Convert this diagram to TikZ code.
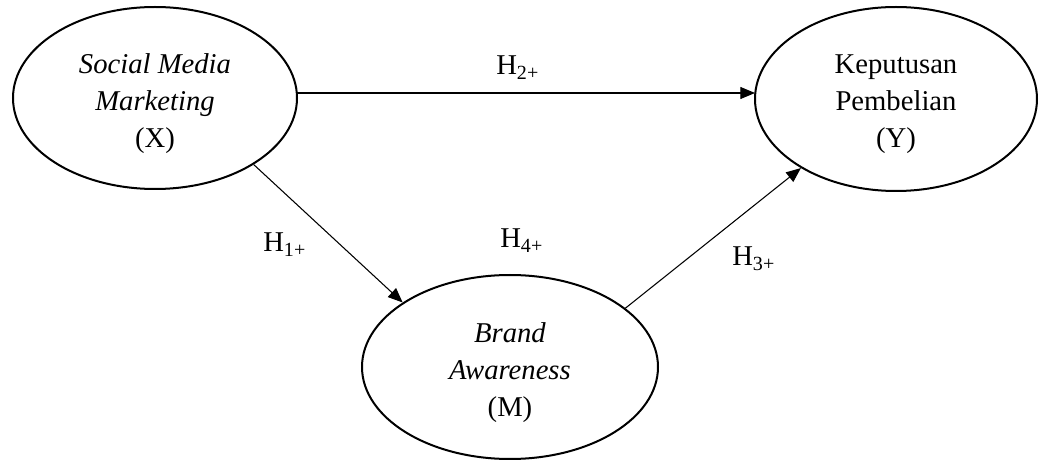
\documentclass[tikz,border=0pt]{standalone}
\usepackage{fontspec}
\setmainfont{Liberation Serif}
\usetikzlibrary{arrows.meta,shapes.geometric}
\tikzset{
  var/.style={draw, ellipse, line width=1.5pt, inner sep=0pt},
  vtext/.style={align=center, font=\fontsize{21.5}{27.75}\selectfont, inner sep=0pt},
  hyp/.style={anchor=base west, inner sep=0pt, font=\fontsize{21.5}{24}\selectfont},
  conn/.style={line width=0.8pt, -{Triangle[length=11pt,width=9pt]}}
}
\newcommand{\hlab}[1]{H\textsubscript{#1}}
\begin{document}
\begin{tikzpicture}[x=0.75pt,y=-0.75pt]
\useasboundingbox (0,0) rectangle (1047,463);
\node[var, minimum width=284*0.75pt, minimum height=182*0.75pt] (X) at (155,98) {};
\node[var, minimum width=282*0.75pt, minimum height=184*0.75pt] (Y) at (896,99) {};
\node[var, minimum width=296*0.75pt, minimum height=184*0.75pt] (M) at (510,367) {};
\node[vtext] (Xt) at (155,104) {\textit{Social Media}\\\textit{Marketing}\\(X)};
\node[vtext] (Yt) at (896,104) {Keputusan\\Pembelian\\(Y)};
\node[vtext] (Mt) at (510,373) {\textit{Brand}\\\textit{Awareness}\\(M)};
\coordinate (Xr) at (297,93);
\coordinate (Yl) at (755,93);
\draw[conn] (Xr) -- (Yl);
\draw[conn] (X.-34) -- (M.149);
\draw[conn] (M.27) -- (Y.-144);
\node[hyp] (h2) at (496,75) {\hlab{2+}};
\node[hyp] (h1) at (263,252) {\hlab{1+}};
\node[hyp] (h4) at (500,248) {\hlab{4+}};
\node[hyp] (h3) at (732,266) {\hlab{3+}};
\end{tikzpicture}
\end{document}
